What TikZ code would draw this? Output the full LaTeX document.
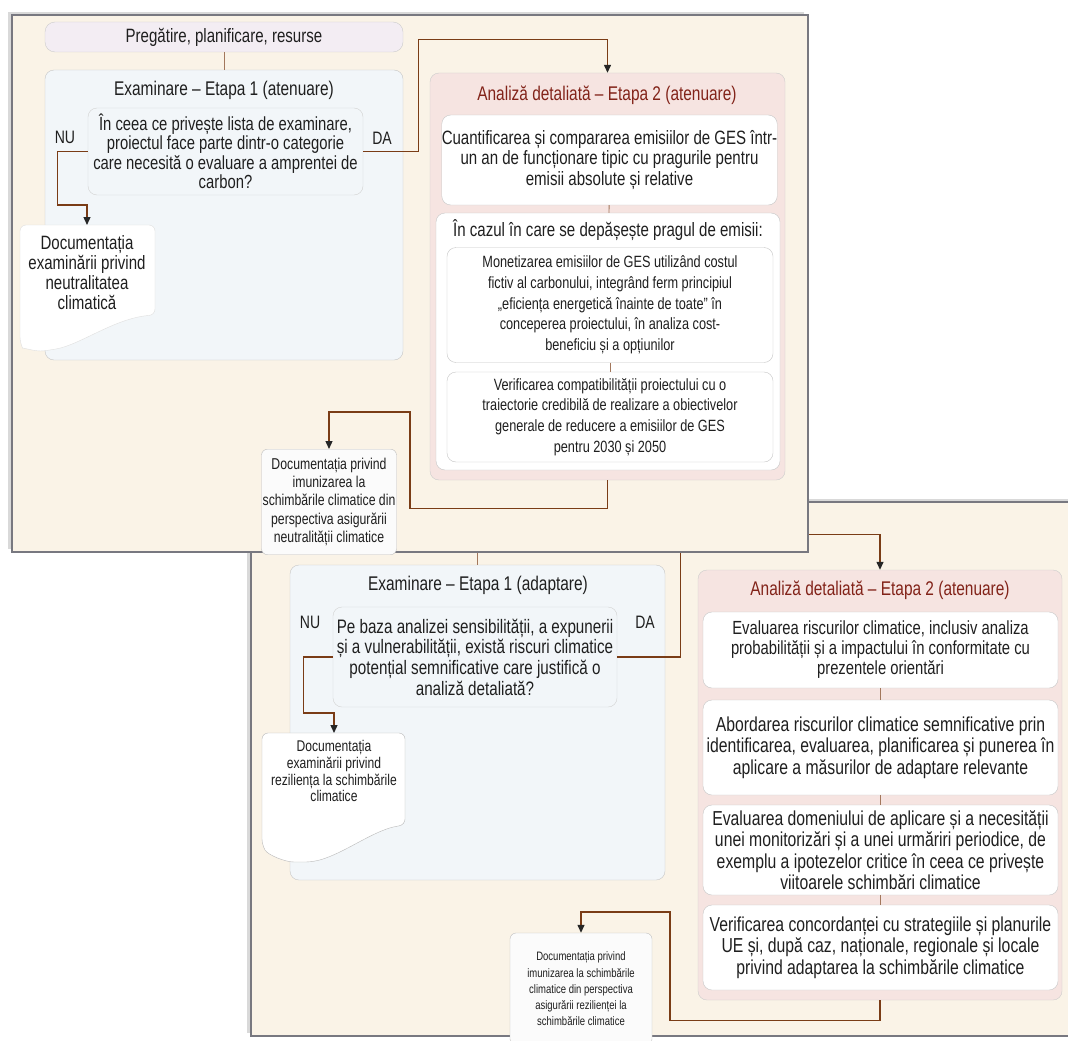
\documentclass[tikz,border=0pt]{standalone}
\usepackage{fontspec}
\setmainfont{Liberation Sans}[FakeStretch=0.78]
\usepackage{tikz}
\usetikzlibrary{arrows.meta,calc,shadows}
\definecolor{cream}{RGB}{250,243,231}
\definecolor{mist}{RGB}{242,246,249}
\definecolor{blush}{RGB}{246,228,225}
\definecolor{lilac}{RGB}{243,237,243}
\definecolor{linkbrown}{RGB}{122,60,22}
\definecolor{titlered}{RGB}{130,35,25}
\definecolor{framegray}{RGB}{120,120,128}

\begin{document}
\begin{tikzpicture}[x=1pt, y=-1pt,
  every node/.style={align=center, inner sep=0pt, text=black!88, font=\fontsize{19.3}{20.5}\selectfont},
  panel/.style={draw=framegray, line width=2pt, fill=cream, drop shadow={shadow xshift=-4pt, shadow yshift=3pt, opacity=.3}},
  exbox/.style={draw=gray!45, rounded corners=9pt, fill=mist},
  anbox/.style={draw=gray!40, rounded corners=9pt, fill=blush},
  inbox/.style={draw=gray!45, rounded corners=9pt, fill=white},
  qbox/.style={draw=gray!35, rounded corners=9pt, fill=mist},
  docline/.style={draw=gray!55, fill=white, rounded corners=6pt},
  title/.style={font=\fontsize{19.8}{22}\selectfont},
  antitle/.style={title, text=titlered},
  fine/.style={font=\fontsize{16.3}{20.7}\selectfont},
  wide/.style={font=\fontsize{20.2}{21.5}\selectfont},
  small/.style={font=\fontsize{15.7}{18.2}\selectfont},
  tiny/.style={font=\fontsize{12.2}{16.2}\selectfont},
  yesno/.style={font=\fontsize{18}{20}\selectfont},
  link/.style={linkbrown, line width=1.3pt, -{Triangle[length=8pt,width=7pt,color=black!85]}},
  tick/.style={linkbrown!70, line width=.8pt}]
  \useasboundingbox (0,0) rectangle (1068,1041);
  \clip (0,0) rectangle (1068,1041);

  % adaptare
  \node[panel, minimum width=830pt, minimum height=534pt] (p2) at (666,769) {};
  \node[exbox, minimum width=375pt, minimum height=315pt] (ex2) at (477.5,722.5) {};
  \node[title] (ex2t) at (478,585) {Examinare – Etapa 1 (adaptare)};
  \node[qbox, font=\fontsize{19.5}{20.7}\selectfont, minimum width=284pt, minimum height=100pt] (q2) at (475,657) {Pe baza analizei sensibilității, a expunerii\\și a vulnerabilității, există riscuri climatice\\potențial semnificative care justifică o\\analiză detaliată?};
  \node[yesno] (nu2) at (310,622) {NU};
  \node[yesno] (da2) at (645,622) {DA};
  \draw[docline] (262,733) -- (405,733) -- (405,825) .. controls (370,830) and (335,862) .. (300,862) .. controls (285,862) and (268,855) .. (262,845) -- cycle;
  \node[font=\fontsize{15.5}{16.8}\selectfont, anchor=north, inner ysep=7pt, minimum width=143pt] (doc3) at (334,733) {Documentația\\examinării privind\\reziliența la schimbările\\climatice};

  \node[anbox, minimum width=364pt, minimum height=430pt] (an4) at (880,785) {};
  \node[antitle] (an4t) at (880,590) {Analiză detaliată – Etapa 2 (atenuare)};
  \node[inbox, font=\fontsize{19}{20}\selectfont, minimum width=355pt, minimum height=76pt] (c1) at (880.5,650) {Evaluarea riscurilor climatice, inclusiv analiza\\probabilității și a impactului în conformitate cu\\prezentele orientări};
  \node[inbox, wide, minimum width=355pt, minimum height=95pt] (c2) at (880.5,747.5) {Abordarea riscurilor climatice semnificative prin\\identificarea, evaluarea, planificarea și punerea în\\aplicare a măsurilor de adaptare relevante};
  \node[inbox, wide, minimum width=355pt, minimum height=90pt] (c3) at (880.5,850) {Evaluarea domeniului de aplicare și a necesității\\unei monitorizări și a unei urmăriri periodice, de\\exemplu a ipotezelor critice în ceea ce privește\\viitoarele schimbări climatice};
  \node[inbox, wide, minimum width=355pt, minimum height=85pt] (c4) at (880.5,947.5) {Verificarea concordanței cu strategiile și planurile\\UE și, după caz, naționale, regionale și locale\\privind adaptarea la schimbările climatice};
  \node[inbox, tiny, draw=gray!50, fill=gray!3, rounded corners=6pt, minimum width=142pt, minimum height=112pt] (doc4) at (581,989) {Documentația privind\\imunizarea la schimbările\\climatice din perspectiva\\asigurării rezilienței la\\schimbările climatice};
  \coordinate (bend4) at (670,912);

  \draw[tick] (c1) -- (c2);
  \draw[tick] (c2) -- (c3);
  \draw[tick] (c3) -- (c4);
  \draw[tick] (ex2.north) -- ++(0,-20);
  \draw[link] (q2.west) -- ++(-29,0) |- ([yshift=20pt]doc3.north) -- (doc3.north);
  \draw[link] (q2.east) -- ++(63,0) |- ([yshift=35pt]an4.north) -- (an4.north);
  \draw[link] (an4.south) -- ++(0,20) -| (bend4) -| (doc4.north);

  % atenuare
  \node[panel, minimum width=796pt, minimum height=537pt] (p1) at (410,283.5) {};
  \node[draw=gray!40, rounded corners=10pt, fill=lilac, minimum width=358pt, minimum height=30pt] (prep) at (224,37) {Pregătire, planificare, resurse};
  \node[exbox, minimum width=358pt, minimum height=290pt] (ex1) at (224,215) {};
  \node[title] (ex1t) at (224,90) {Examinare – Etapa 1 (atenuare)};
  \node[qbox, font=\fontsize{19}{19.5}\selectfont, minimum width=275pt, minimum height=87pt] (q1) at (225.5,151.5) {În ceea ce privește lista de examinare,\\proiectul face parte dintr-o categorie\\care necesită o evaluare a amprentei de\\carbon?};
  \node[yesno] (nu1) at (65,137) {NU};
  \node[yesno] (da1) at (382,138) {DA};
  \draw[docline, draw=gray!25] (20,225) -- (155,225) -- (155,315) .. controls (115,318) and (80,345) .. (50,350) .. controls (35,352) and (22,347) .. (20,343) -- cycle;
  \node[font=\fontsize{19.3}{20}\selectfont, anchor=north, inner ysep=10pt, minimum width=135pt] (doc1) at (87,225) {Documentația\\examinării privind\\neutralitatea\\climatică};

  \node[anbox, minimum width=355pt, minimum height=407pt] (an2) at (607.5,276.5) {};
  \node[antitle] (an2t) at (607,95) {Analiză detaliată – Etapa 2 (atenuare)};
  \node[inbox, minimum width=335pt, minimum height=90pt] (b1) at (609.5,160) {Cuantificarea și compararea emisiilor de GES într-\\un an de funcționare tipic cu pragurile pentru\\emisii absolute și relative};
  \node[inbox, minimum width=344pt, minimum height=257pt] (b2) at (608,341.5) {};
  \node (b2t) at (608,230) {În cazul în care se depășește pragul de emisii:};
  \node[inbox, fine, minimum width=326pt, minimum height=115pt] (b2a) at (610,305) {Monetizarea emisiilor de GES utilizând costul\\fictiv al carbonului, integrând ferm principiul\\„eficiența energetică înainte de toate” în\\conceperea proiectului, în analiza cost-\\beneficiu și a opțiunilor};
  \node[inbox, fine, minimum width=326pt, minimum height=90pt] (b2b) at (610,417) {Verificarea compatibilității proiectului cu o\\traiectorie credibilă de realizare a obiectivelor\\generale de reducere a emisiilor de GES\\pentru 2030 și 2050};
  \node[inbox, small, draw=gray!50, fill=gray!3, rounded corners=6pt, anchor=north, inner ysep=9pt, minimum width=135pt] (doc2) at (329,449) {Documentația privind\\imunizarea la\\schimbările climatice din\\perspectiva asigurării\\neutralității climatice};
  \coordinate (bend2) at (410,412);

  \draw[tick] (prep) -- (ex1);
  \draw[tick] (b1) -- (b2);
  \draw[tick] (b2a) -- (b2b);
  \draw[link] (q1.west) -- ++(-30,0) |- ([yshift=20pt]doc1.north) -- (doc1.north);
  \draw[link] (q1.east) -- ++(55,0) |- ([yshift=33pt]an2.north) -- (an2.north);
  \draw[link] (an2.south) -- ++(0,28) -| (bend2) -| (doc2.north);
\end{tikzpicture}
\end{document}
